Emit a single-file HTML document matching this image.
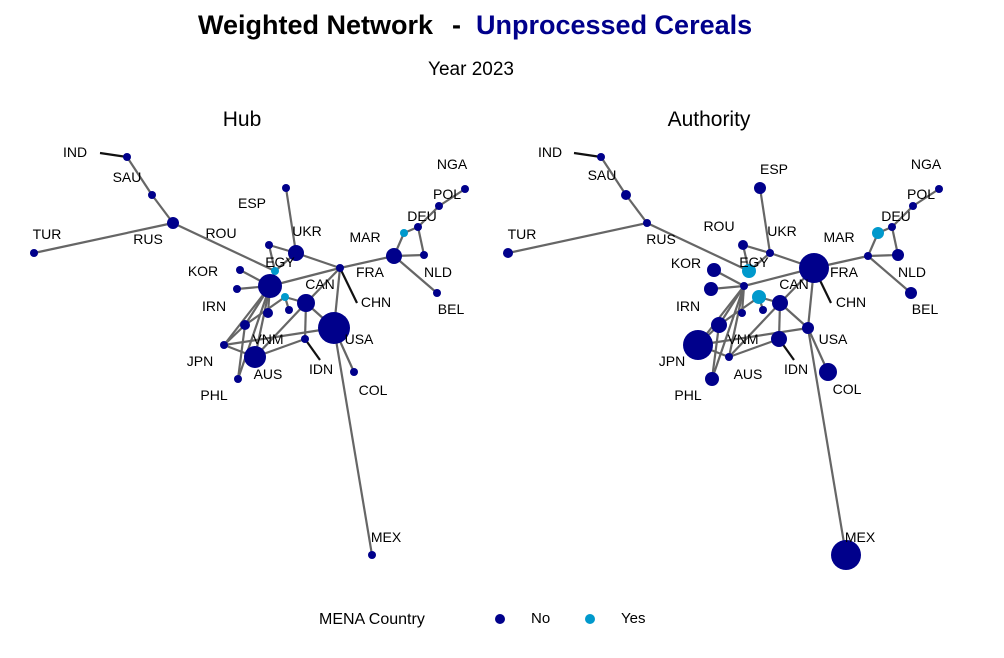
<!DOCTYPE html>
<html><head><meta charset="utf-8">
<style>
html,body{margin:0;padding:0;background:#fff;}
body{width:1004px;height:653px;overflow:hidden;font-family:"Liberation Sans",Arial,sans-serif;}
</style></head>
<body>
<svg id="chart" width="1004" height="653" viewBox="0 0 1004 653" xmlns="http://www.w3.org/2000/svg" font-family="Liberation Sans, Arial, sans-serif">
  <text y="34" font-size="27" font-weight="bold"><tspan x="198" fill="#000">Weighted Network</tspan><tspan x="452" fill="#000">-</tspan><tspan x="476" fill="#00008B">Unprocessed Cereals</tspan></text>
  <text x="471" y="75" text-anchor="middle" font-size="19">Year 2023</text>
  <text x="242" y="126" text-anchor="middle" font-size="21">Hub</text>
  <text x="709" y="126" text-anchor="middle" font-size="21">Authority</text>
  <g id="hub"></g>
  <g id="auth"></g>
  <g>
    <text x="319" y="624" font-size="16">MENA Country</text>
    <circle cx="500" cy="619" r="5" fill="#00008B"/>
    <text x="531" y="623" font-size="15">No</text>
    <circle cx="590" cy="619" r="5" fill="#0099CC"/>
    <text x="621" y="623" font-size="15">Yes</text>
  </g>
</svg>
<script>
// node layout ids (positions for hub panel; authority uses same layout shifted)
const nodeIds = ["IND","SAU","RUS","TUR","ESP","ROU","UKR","FRA","MAR","MARc","DEU","POL","NGA","NLD","BEL","EGY","KOR","IRN","BIG","CYN2","CAN","SML","VNMn","VNM","JPN","AUS","IDN","PHL","COL","MEX","USAX"];
const nodeX = [127,152,173,34,286,269,296,340,394,404,418,439,465,424,437,275,240,237,270,285,306,289,268,245,224,255,305,238,354,372,334];
const nodeY = [157,195,223,253,188,245,253,268,256,233,227,206,189,255,293,271,270,289,286,297,303,310,313,325,345,357,339,379,372,555,328];
const nodeMena = [0,0,0,0,0,0,0,0,0,1,0,0,0,0,0,1,0,0,0,1,0,0,0,0,0,0,0,0,0,0,0];
const hubSizes = [4,4,6,4,4,4,8,4,8,4,4,4,4,4,4,4,4,4,12,4,9,4,5,5,4,11,4,4,4,4,16];
const authSizes = [4,5,4,5,6,5,4,15,4,6,4,4,4,6,6,7,7,7,4,7,8,4,4,8,15,4,8,7,9,15,6];
const edgesFrom = ["SAU","RUS","RUS","RUS","ESP","ROU","ROU","UKR","UKR","FRA","MAR","MARc","DEU","POL","DEU","MAR","MAR","BIG","KOR","IRN","BIG","BIG","BIG","BIG","BIG","CYN2","CYN2","CAN","CAN","CAN","CAN","VNM","FRA","USAX","USAX","JPN","JPN","JPN","PHL","AUS"];
const edgesTo = ["IND","SAU","TUR","EGY","UKR","UKR","EGY","FRA","EGY","MAR","MARc","DEU","POL","NGA","NLD","NLD","BEL","FRA","BIG","BIG","VNMn","VNM","JPN","PHL","AUS","CAN","SML","USAX","FRA","IDN","AUS","CYN2","USAX","MEX","COL","USAX","AUS","VNM","VNM","IDN"];
const darkFrom = ["IND","FRA","IDN"];
const darkFromPt = [[100,153],[340,268],[305,339]];
const darkToPt = [[127,157],[357,303],[320,360]];
const hubLabels = [["IND",75,152],["SAU",127,177],["TUR",47,234],["RUS",148,239],["ROU",221,233],["ESP",252,203],["UKR",307,231],["MAR",365,237],["DEU",422,216],["POL",447,194],["NGA",452,164],["NLD",438,272],["BEL",451,309],["FRA",370,272],["CHN",376,302],["KOR",203,271],["EGY",280,262],["CAN",320,284],["IRN",214,306],["USA",359,339],["VNM",268,339],["JPN",200,361],["AUS",268,374],["IDN",321,369],["PHL",214,395],["COL",373,390],["MEX",386,537]];
const authLabels = [["IND",550,152],["SAU",602,175],["TUR",522,234],["RUS",661,239],["ROU",719,226],["ESP",774,169],["UKR",782,231],["MAR",839,237],["DEU",896,216],["POL",921,194],["NGA",926,164],["NLD",912,272],["BEL",925,309],["FRA",844,272],["CHN",851,302],["KOR",686,263],["EGY",754,262],["CAN",794,284],["IRN",688,306],["USA",833,339],["VNM",743,339],["JPN",672,361],["AUS",748,374],["IDN",796,369],["PHL",688,395],["COL",847,389],["MEX",860,537]];
</script>
<script>
const NS="http://www.w3.org/2000/svg";
function idx(n){return nodeIds.indexOf(n);}
function draw(gid, dx, sizes, labels){
  const g=document.getElementById(gid);
  for(let i=0;i<edgesFrom.length;i++){
    const a=idx(edgesFrom[i]), b=idx(edgesTo[i]);
    if(a<0||b<0) continue;
    const l=document.createElementNS(NS,"line");
    
    
    l.setAttribute("x1",nodeX[a]+dx);l.setAttribute("y1",nodeY[a]);
    l.setAttribute("x2",nodeX[b]+dx);l.setAttribute("y2",nodeY[b]);
    l.setAttribute("stroke","#666");l.setAttribute("stroke-width","2.2");
    g.appendChild(l);
  }
  for(let i=0;i<darkFrom.length;i++){
    const l=document.createElementNS(NS,"line");
    
    
    l.setAttribute("x1",darkFromPt[i][0]+dx);l.setAttribute("y1",darkFromPt[i][1]);
    l.setAttribute("x2",darkToPt[i][0]+dx);l.setAttribute("y2",darkToPt[i][1]);
    l.setAttribute("stroke","#111");l.setAttribute("stroke-width","2.2");
    g.appendChild(l);
  }
  for(let i=0;i<nodeIds.length;i++){
    const c=document.createElementNS(NS,"circle");
    
    
    c.setAttribute("cx",nodeX[i]+dx);c.setAttribute("cy",nodeY[i]);
    c.setAttribute("r",sizes[i]);
    c.setAttribute("fill",nodeMena[i]?"#0099CC":"#00008B");
    g.appendChild(c);
  }
  for(const lb of labels){
    const t=document.createElementNS(NS,"text");
    
    
    t.setAttribute("x",lb[1]);t.setAttribute("y",lb[2]+5);
    t.setAttribute("text-anchor","middle");t.setAttribute("font-size","14");
    t.textContent=lb[0];
    g.appendChild(t);
  }
}
draw("hub",0,hubSizes,hubLabels);
draw("auth",474,authSizes,authLabels);
</script>
</body></html>
